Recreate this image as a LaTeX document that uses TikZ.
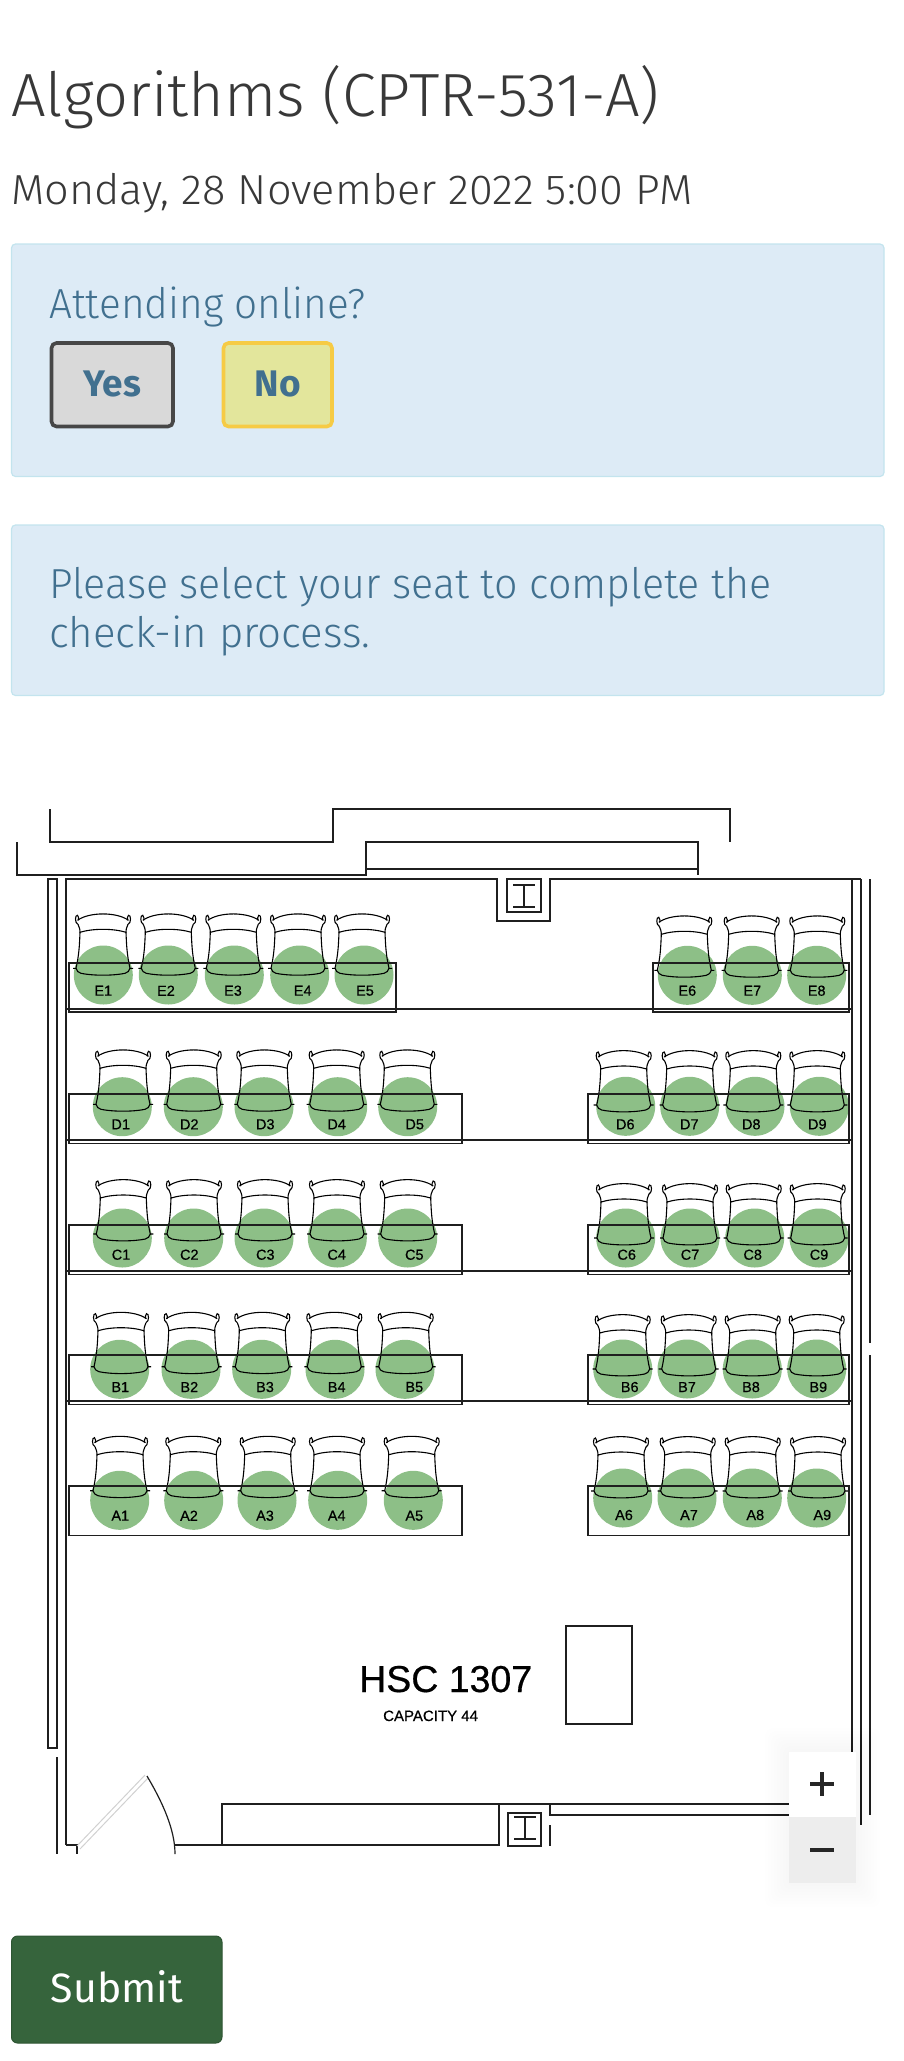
\documentclass[tikz,border=0pt]{standalone}
\usepackage{fontspec}
\usepackage{graphicx}
\setmainfont{Fira Sans}[UprightFont=* Light, BoldFont=* Medium]
\newfontfamily\planfont{Liberation Sans}[FakeBold=0.5]
\newfontfamily\plainfont{Fira Sans}
\definecolor{titletext}{HTML}{383838}
\definecolor{infotext}{HTML}{41708F}
\definecolor{infofill}{HTML}{DDEBF6}
\definecolor{infoline}{HTML}{C3E4EE}
\definecolor{seatgreen}{HTML}{8DBF87}
\definecolor{submitgreen}{HTML}{36643C}
\definecolor{nofill}{HTML}{E3E69C}
\definecolor{noline}{HTML}{F6CB45}
\usetikzlibrary{positioning}

\tikzset{
  chairline/.style={draw=black, line width=1.1pt},
  seatchair/.pic={
    \draw[chairline] (-25.5,7) .. controls (-14,-1.5) and (14,-1.5) .. (25.5,7);
    \draw[chairline] (-25,11) .. controls (-28.5,10) and (-28,1) .. (-25.5,2) .. controls (-24,2.5) and (-24.5,6) .. (-24.5,7);
    \draw[chairline] (25,11) .. controls (28.5,10) and (28,1) .. (25.5,2) .. controls (24,2.5) and (24.5,6) .. (24.5,7);
    \draw[chairline] (-25,11) .. controls (-24,14) and (-23,15) .. (-23,19) .. controls (-10,15) and (10,15) .. (23,19) .. controls (23,15) and (24,14) .. (25,11);
    \draw[chairline] (-23,19) .. controls (-23.5,32) and (-24,42) .. (-27,55) -- (-30,55);
    \draw[chairline] (23,19) .. controls (23.5,32) and (24,42) .. (27,55) -- (30,55);
    \draw[chairline] (-27,55) .. controls (-26,58) and (-25,59) .. (-22,60) .. controls (-10,62.5) and (10,62.5) .. (22,60) .. controls (25,59) and (26,58) .. (27,55);
  }
}

% circle, chair and label of one group of seats
\newcommand{\seatrow}[4]{
  \foreach \seatname/\cx/\hx/\lx in {#4} {
    \node (c\seatname) [seatdot] at (\cx,#1) {};
    \pic at (\hx,#2) {seatchair};
    \node (\seatname) [seatlabel] at (\lx,#3) {\seatname};
  }
}

\begin{document}
\begin{tikzpicture}[x=1pt, y=-1pt]
  \tikzstyle{plan} = [draw=black!88, line width=1.2pt]
  \tikzstyle{seatdot} = [circle, minimum size=59pt, inner sep=0pt, fill=seatgreen]
  \tikzstyle{seatlabel} = [inner sep=0pt, text=black, font=\planfont\fontsize{14.5}{14.5}\selectfont]
  \tikzstyle{infobox} = [draw=infoline, line width=1.2pt, fill=infofill, rounded corners=4pt]
  \tikzstyle{heading} = [anchor=base west, inner sep=0pt]
  \tikzstyle{choice} = [line width=3.6pt, rounded corners=5pt]
  \tikzstyle{choicetext} = [inner sep=0pt, text=infotext, font=\plainfont\bfseries\fontsize{37}{37}\selectfont]

  \useasboundingbox (0,0) rectangle (903,2061);

  % header
  \node (title) [heading, text=titletext] at (11,116) {\scalebox{1.005}[1]{\fontsize{61}{61}\selectfont Algorithms (CPTR-531-A)}};
  \node (date) [heading, text=titletext] at (11,204.5) {\scalebox{1.03}[1]{\fontsize{42}{42}\selectfont Monday, 28 November 2022 5:00 PM}};

  % attending box
  \draw [infobox] (11.5,244) rectangle (884,476.5);
  \node (attending) [heading, text=infotext] at (49,318) {\scalebox{0.965}[1]{\fontsize{42}{42}\selectfont Attending online?}};
  \draw [choice, draw=black!72, fill=black!15] (51.5,343) rectangle (173,426.5);
  \node (yes) [choicetext] at (112,383.5) {Yes};
  \draw [choice, draw=noline, fill=nofill] (223.5,343) rectangle (332,426.5);
  \node (no) [choicetext] at (278,383.5) {No};

  % seat box
  \draw [infobox] (11.5,525) rectangle (884,695.5);
  \node (please) [heading, text=infotext] at (49,598.5) {\scalebox{0.98}[1]{\fontsize{42}{42}\selectfont Please select your seat to complete the}};
  \node (checkin) [heading, text=infotext] at (49,647.5) {\scalebox{1}[1]{\fontsize{42}{42}\selectfont check-in process.}};

  % seats
  \seatrow{975}{913.3}{990.7}{E1/103.3/103/103.3, E2/168.3/168.3/166, E3/234.3/233.3/233, E4/299.7/298/302.7, E5/364/362/365}
  \seatrow{975.3}{915.3}{990.7}{E6/687.3/684.3/687.3, E7/752.3/751.7/752.3, E8/816.7/817.3/816.7}
  \seatrow{1106.7}{1049.3}{1124.3}{D1/122.3/123/120.7, D2/193.3/193.7/189.3, D3/264/264.3/265.3, D4/337.7/336.7/336.7, D5/407.7/407.3/414.7}
  \seatrow{1106.3}{1050}{1124.3}{D6/625.7/623.7/625.3, D7/689.7/689.7/689.3, D8/755/753.3/751.3, D9/819.3/817.3/817.3}
  \seatrow{1238}{1179}{1254.7}{C1/122.3/123.3/121, C2/193.7/194/189.3, C3/264/265/265.3, C4/337.3/337/336.7, C5/407.7/407.7/414.3}
  \seatrow{1238}{1183}{1254.7}{C6/625.7/624/626.7, C7/690/690/690, C8/754.7/753.7/752.7, C9/819/817.7/819}
  \seatrow{1369.3}{1311.7}{1387}{B1/119.7/121/120.3, B2/191/191.7/189.3, B3/261.7/262.3/265, B4/335/334.3/336.7, B5/405/405.7/414.3}
  \seatrow{1369}{1314}{1387}{B6/622.7/622.7/629.7, B7/687/688.7/687, B8/752.3/752.7/751, B9/816.7/816.7/818.3}
  \seatrow{1500.3}{1435.7}{1515.7}{A1/119.7/120/120.3, A2/193.7/193.3/189, A3/267/267.7/265, A4/337.7/337/336.7, A5/413.3/411.7/414.3}
  \seatrow{1498}{1436}{1515}{A6/622.7/621/624, A7/687/687.7/689, A8/752.3/752.7/755.3, A9/816.7/818/822.3}

  % benches
  \draw [plan] (69,963) rectangle (396,1012);
  \draw [plan] (653,963) rectangle (849,1012);
  \foreach \ytop in {1094,1225,1355,1486} {
    \draw [plan] (69,\ytop) rectangle (462,\ytop+49.5);
    \draw [plan] (588,\ytop) rectangle (849,\ytop+49.5);
  }
  \foreach \yrow in {1009,1140,1271,1401} {
    \draw [plan] (66,\yrow) -- (852,\yrow);
  }

  % corridor
  \draw [plan] (50,809) -- (50,842) -- (333,842) -- (333,809) -- (730,809) -- (730,842);
  \draw [plan] (17,842) -- (17,875) -- (366,875) -- (366,842) -- (698,842) -- (698,875);
  \draw [plan] (366,869) -- (698,869);

  % walls
  \draw [plan] (66,1845) -- (66,879) -- (497,879) -- (497,921) -- (550,921) -- (550,879) -- (861,879);
  \draw [plan] (48,879) rectangle (57,1748);
  \draw [plan] (57,1757) -- (57,1854);
  \draw [plan] (66,1845) -- (77,1845) -- (77,1854);
  \draw [plan] (852,879) -- (852,1760);
  \draw [plan] (861,879) -- (861,1825);
  \draw [plan] (870,879) -- (870,1343);
  \draw [plan] (870,1355) -- (870,1815);
  \draw [plan] (175,1845) -- (222,1845);
  \draw [plan] (222,1845) -- (222,1804) -- (790,1804);
  \draw [plan] (222,1845) -- (499,1845) -- (499,1804);
  \draw [plan] (550,1804) -- (550,1815) -- (790,1815);
  \draw [plan] (550,1825) -- (550,1846);

  % columns
  \draw [plan] (507,879) rectangle (541,912);
  \draw [plan] (513,885) -- (535,885);
  \draw [plan] (513,907) -- (535,907);
  \draw [plan] (524,885) -- (524,907);
  \draw [plan] (508,1813) rectangle (541,1846);
  \draw [plan] (514,1817) -- (536,1817);
  \draw [plan] (514,1839) -- (536,1839);
  \draw [plan] (525,1817) -- (525,1839);

  % door
  \draw [black!18, line width=1pt] (77,1846) -- (145,1775);
  \draw [black!18, line width=1pt] (80,1849) -- (148,1778);
  \draw [plan] (147,1776) .. controls (163,1803) and (175,1830) .. (175,1854);

  % room name and desk
  \draw [plan] (566,1626) rectangle (632,1724);
  \node (room) [anchor=base west, inner sep=0pt, text=black, font=\planfont\fontsize{37.5}{37.5}\selectfont] at (359,1692) {HSC 1307};
  \node (capacity) [anchor=base west, inner sep=0pt, text=black, font=\planfont\fontsize{15}{15}\selectfont] at (383,1721) {CAPACITY 44};

  % zoom control
  \foreach \grow in {3,6,...,24} {
    \fill [black, opacity=0.003, rounded corners=8pt] (789-\grow,1752-\grow) rectangle (856+\grow,1883+\grow);
  }
  \fill [white] (789,1752) rectangle (856,1817);
  \fill [black!7] (789,1817) rectangle (856,1883);
  \fill [black!85] (810,1782) rectangle (834,1786);
  \fill [black!85] (820,1772) rectangle (824,1796);
  \node (minus) [fill=black!85, minimum width=24pt, minimum height=4pt, inner sep=0pt] at (822,1850) {};

  % submit
  \draw [draw=submitgreen!85!black, line width=1pt, fill=submitgreen, rounded corners=6pt] (11.5,1936) rectangle (222,2043);
  \node (submit) [inner sep=0pt, text=white, font=\plainfont\fontsize{41}{41}\selectfont] at (117,1987) {Submit};
\end{tikzpicture}
\end{document}
